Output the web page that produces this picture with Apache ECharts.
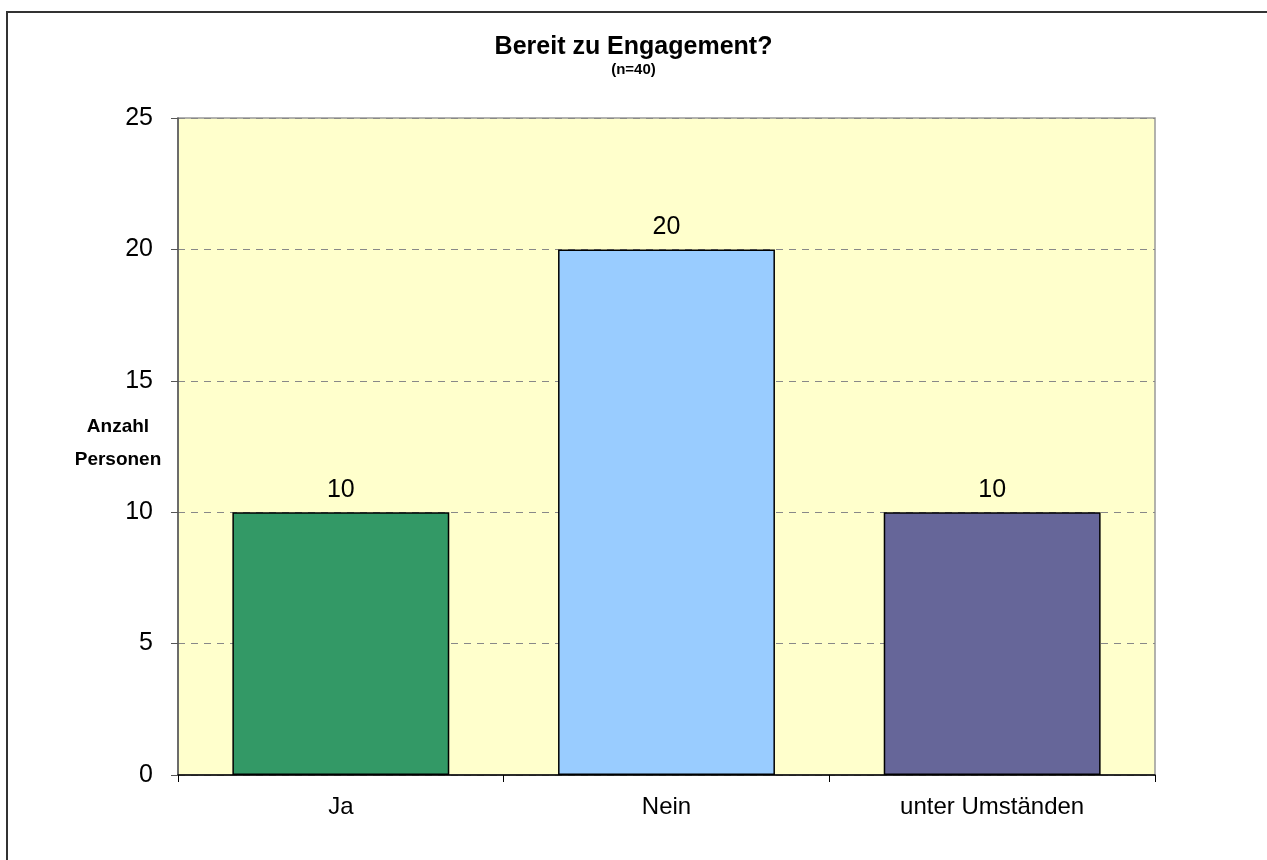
<!DOCTYPE html>
<html><head><meta charset="utf-8">
<script src="https://cdn.jsdelivr.net/npm/echarts@6/dist/echarts.min.js"></script>
<style>html,body{margin:0;padding:0;background:#fff}#c{width:1267px;height:860px}</style>
</head><body><div id="c"></div>
<script>
const categories = ['Ja', 'Nein', 'unter Umständen'];
const values = [10, 20, 10];
const barColors = ['#339966', '#99CCFF', '#666699'];
const yTicks = [0, 5, 10, 15, 20, 25];

const chart = echarts.init(document.getElementById('c'));
const font = '"Liberation Sans", Arial, sans-serif';
chart.setOption({
  animation: false,
  textStyle: { fontFamily: font },
  title: {
    text: 'Bereit zu Engagement?',
    subtext: '(n=40)',
    left: 'center', top: 30, itemGap: 2,
    textStyle: { fontFamily: font, fontSize: 25, fontWeight: 'bold', color: '#000' },
    subtextStyle: { fontFamily: font, fontSize: 15, fontWeight: 'bold', color: '#000' }
  },
  graphic: [{
    type: 'rect', shape: { x: 7, y: 12, width: 1400, height: 1000 },
    style: { fill: 'none', stroke: '#333', lineWidth: 2 }, silent: true, z: -1
  }, {
    type: 'text', x: 118, y: 410,
    style: { text: 'Anzahl\nPersonen', font: 'bold 19px ' + font, fill: '#000', align: 'center', lineHeight: 33 }
  }],
  grid: {
    left: 178, right: 112, top: 118, bottom: 85,
    show: true, backgroundColor: '#FFFFCC', borderColor: '#999', borderWidth: 1.5
  },
  xAxis: {
    type: 'category', data: categories,
    axisLine: { lineStyle: { color: '#000', width: 1.5 } },
    axisTick: { show: true, length: 7, lineStyle: { color: '#000' } },
    axisLabel: { fontSize: 24, color: '#000', margin: 20 }
  },
  yAxis: {
    type: 'value', min: yTicks[0], max: yTicks[yTicks.length - 1], interval: 5,
    axisLine: { show: true, lineStyle: { color: '#555', width: 1.5 } },
    axisTick: { show: true, length: 7, lineStyle: { color: '#555' } },
    axisLabel: { fontSize: 25, color: '#000', margin: 25 },
    splitLine: { show: true, lineStyle: { color: '#888', type: [7, 6], width: 1 } }
  },
  series: [{
    type: 'bar', barWidth: '66.6%',
    data: values.map((v, i) => ({ value: v, itemStyle: { color: barColors[i] } })),
    itemStyle: { borderColor: '#000', borderWidth: 1.5 },
    label: { show: true, position: 'top', fontSize: 25, color: '#000', distance: 10 }
  }]
});
</script></body></html>
